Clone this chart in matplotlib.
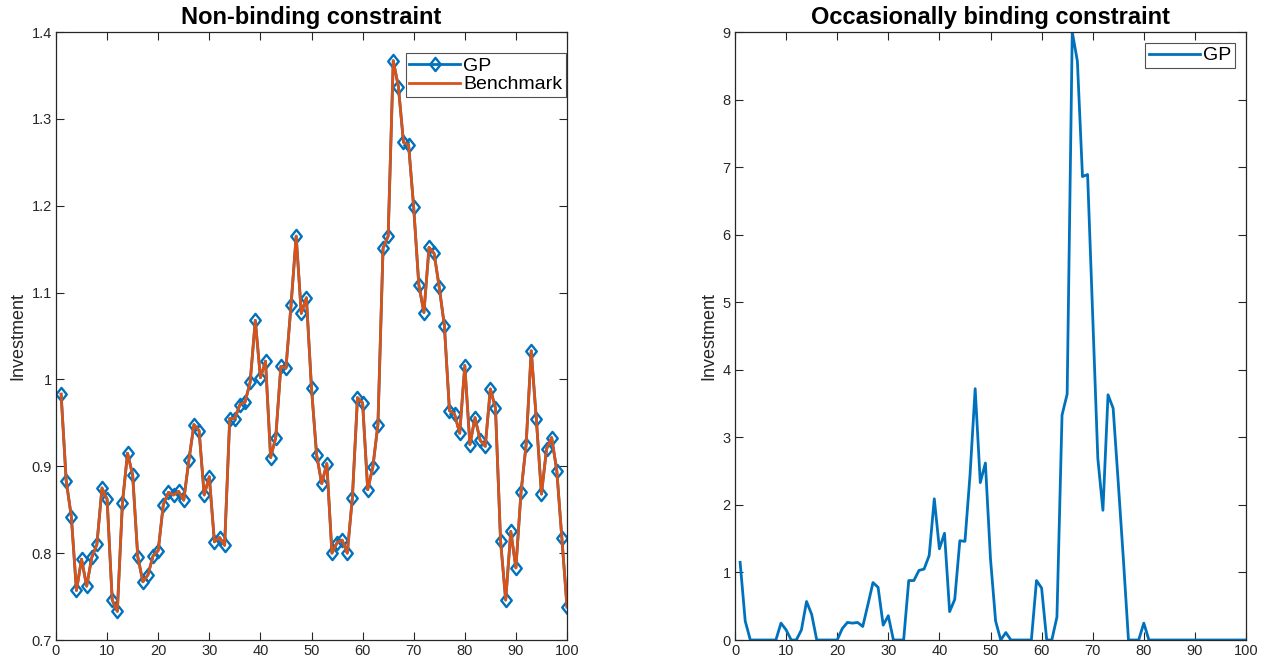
import matplotlib
matplotlib.use("Agg")
import matplotlib.pyplot as plt
from matplotlib.path import Path

plt.rcParams['font.family'] = ['Liberation Sans', 'DejaVu Sans']

periods = list(range(1, 101))

gp_nonbinding = [
    0.983, 0.883, 0.842, 0.757, 0.793, 0.762, 0.795, 0.810, 0.875, 0.862,
    0.746, 0.733, 0.858, 0.915, 0.890, 0.796, 0.767, 0.775, 0.797, 0.803,
    0.856, 0.870, 0.867, 0.871, 0.861, 0.907, 0.948, 0.941, 0.867, 0.888,
    0.813, 0.818, 0.809, 0.955, 0.955, 0.971, 0.974, 0.997, 1.068, 1.002,
    1.021, 0.910, 0.933, 1.015, 1.013, 1.086, 1.165, 1.076, 1.094, 0.990,
    0.913, 0.880, 0.903, 0.800, 0.812, 0.815, 0.800, 0.864, 0.979, 0.973,
    0.873, 0.899, 0.948, 1.151, 1.165, 1.367, 1.337, 1.273, 1.270, 1.198,
    1.109, 1.077, 1.152, 1.145, 1.106, 1.062, 0.964, 0.960, 0.938, 1.016,
    0.925, 0.956, 0.930, 0.923, 0.989, 0.967, 0.814, 0.746, 0.825, 0.783,
    0.870, 0.925, 1.033, 0.954, 0.868, 0.920, 0.933, 0.895, 0.817, 0.738,
]
benchmark_nonbinding = [
    0.983, 0.883, 0.842, 0.757, 0.793, 0.762, 0.795, 0.810, 0.875, 0.862,
    0.746, 0.733, 0.858, 0.915, 0.890, 0.796, 0.767, 0.775, 0.797, 0.803,
    0.856, 0.870, 0.867, 0.871, 0.861, 0.907, 0.948, 0.941, 0.867, 0.888,
    0.813, 0.818, 0.809, 0.955, 0.955, 0.971, 0.974, 0.997, 1.068, 1.002,
    1.021, 0.910, 0.933, 1.015, 1.013, 1.086, 1.165, 1.076, 1.094, 0.990,
    0.913, 0.880, 0.903, 0.800, 0.812, 0.815, 0.800, 0.864, 0.979, 0.973,
    0.873, 0.899, 0.948, 1.151, 1.165, 1.367, 1.337, 1.273, 1.270, 1.198,
    1.109, 1.077, 1.152, 1.145, 1.106, 1.062, 0.964, 0.960, 0.938, 1.016,
    0.925, 0.956, 0.930, 0.923, 0.989, 0.967, 0.814, 0.746, 0.825, 0.783,
    0.870, 0.925, 1.033, 0.954, 0.868, 0.920, 0.933, 0.895, 0.817, 0.738,
]

gp_binding = [
    1.15, 0.28, 0.0, 0.0, 0.0, 0.0, 0.0, 0.0, 0.25, 0.15,
    0.0, 0.0, 0.15, 0.57, 0.38, 0.0, 0.0, 0.0, 0.0, 0.0,
    0.17, 0.26, 0.25, 0.26, 0.20, 0.52, 0.85, 0.78, 0.22, 0.36,
    0.0, 0.0, 0.0, 0.88, 0.88, 1.03, 1.05, 1.25, 2.09, 1.35,
    1.58, 0.42, 0.60, 1.47, 1.46, 2.45, 3.72, 2.33, 2.62, 1.20,
    0.28, 0.0, 0.11, 0.0, 0.0, 0.0, 0.0, 0.0, 0.88, 0.77,
    0.0, 0.0, 0.34, 3.33, 3.64, 9.0, 8.57, 6.86, 6.89, 4.8,
    2.69, 1.92, 3.63, 3.43, 2.33, 1.2, 0.0, 0.0, 0.0, 0.25,
    0.0, 0.0, 0.0, 0.0, 0.0, 0.0, 0.0, 0.0, 0.0, 0.0,
    0.0, 0.0, 0.0, 0.0, 0.0, 0.0, 0.0, 0.0, 0.0, 0.0,
]

left_yticks = [0.7, 0.8, 0.9, 1.0, 1.1, 1.2, 1.3, 1.4]
left_yticklabels = ["0.7", "0.8", "0.9", "1", "1.1", "1.2", "1.3", "1.4"]
right_yticks = list(range(0, 10))
xticks = list(range(0, 101, 10))

BLUE = '#0072BD'
ORANGE = '#D95319'
DARK = '#262626'

diamond = Path([(0, 1), (0.8, 0), (0, -1), (-0.8, 0), (0, 1)],
               [Path.MOVETO, Path.LINETO, Path.LINETO, Path.LINETO, Path.CLOSEPOLY])

fig = plt.figure(figsize=(12.7, 6.61), dpi=100)
W, H = 1270, 661
ax1 = fig.add_axes([56 / W, (H - 640) / H, 511 / W, 608 / H])
ax2 = fig.add_axes([735 / W, (H - 640) / H, 511 / W, 608 / H])


def style(ax):
    ax.tick_params(direction='in', top=True, right=True, length=6, width=0.8,
                   labelsize=10.5, colors=DARK, pad=3)
    for s in ax.spines.values():
        s.set_linewidth(0.9)
        s.set_color(DARK)
    ax.set_xlim(0, 100)
    ax.set_xticks(xticks)
    ax.set_ylabel('Investment', fontsize=13, color=DARK, labelpad=4)


def legend(ax, anchor):
    leg = ax.legend(loc='upper right', bbox_to_anchor=anchor, fontsize=14,
                    frameon=True, fancybox=False, edgecolor=DARK, handlelength=2.6,
                    handletextpad=0.15, borderpad=0.2, labelspacing=0.05,
                    borderaxespad=0.0)
    leg.get_frame().set_linewidth(0.8)
    return leg


ax1.plot(periods, gp_nonbinding, color=BLUE, lw=2, marker=diamond, markersize=9.5,
         markerfacecolor='none', markeredgecolor=BLUE, markeredgewidth=1.7,
         label='GP')
ax1.plot(periods, benchmark_nonbinding, color=ORANGE, lw=2, label='Benchmark')
style(ax1)
ax1.set_ylim(0.7, 1.4)
ax1.set_yticks(left_yticks)
ax1.set_yticklabels(left_yticklabels)
ax1.set_title('Non-binding constraint', fontsize=17, fontweight='bold', pad=6)
legend(ax1, (0.998, 0.965))

ax2.plot(periods, gp_binding, color=BLUE, lw=2, label='GP')
style(ax2)
ax2.set_ylim(0, 9)
ax2.set_yticks(right_yticks)
ax2.set_title('Occasionally binding constraint', fontsize=17, fontweight='bold', pad=6)
legend(ax2, (0.978, 0.982))

fig.savefig('out.png', dpi=100)
